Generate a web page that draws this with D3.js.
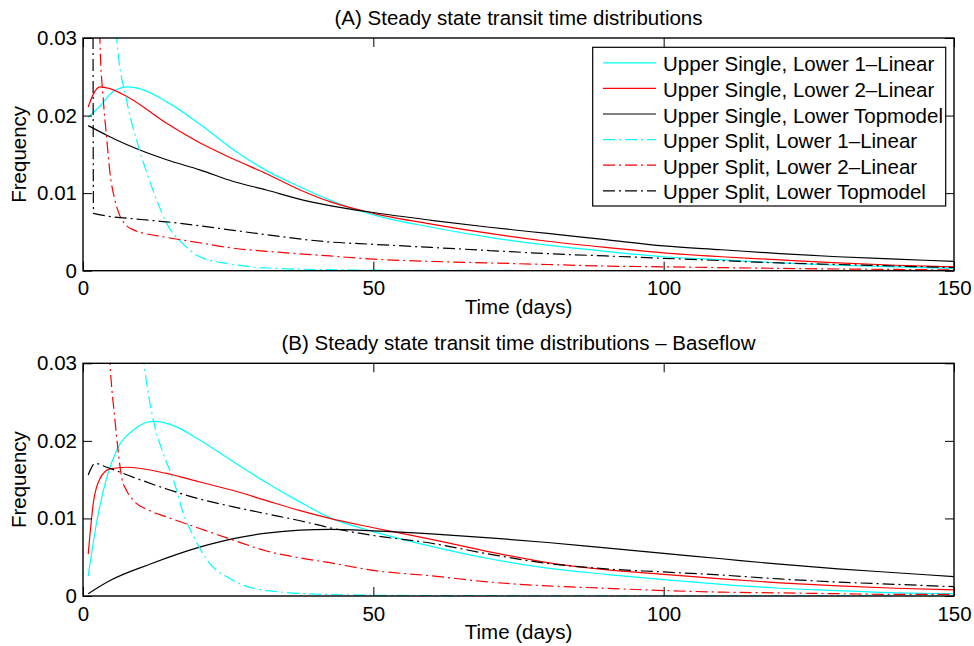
<!DOCTYPE html>
<html>
<head>
<meta charset="utf-8">
<script src="https://cdn.jsdelivr.net/npm/d3@7"></script>
<style>
  body { margin: 0; background: #fff; }
  text { font-family: "Liberation Sans", Arial, Helvetica, sans-serif; fill: #000; }
</style>
</head>
<body>
<div id="chart"></div>
<script>
// ---- data: [days, frequency] ----
const xTicks = [0, 50, 100, 150];
const yTicks = [0, 0.01, 0.02, 0.03];
const yTickLabels = ["0", "0.01", "0.02", "0.03"];

const seriesNames = [
  "Upper Single, Lower 1\u2013Linear",
  "Upper Single, Lower 2\u2013Linear",
  "Upper Single, Lower Topmodel",
  "Upper Split, Lower 1\u2013Linear",
  "Upper Split, Lower 2\u2013Linear",
  "Upper Split, Lower Topmodel"
];
const seriesColors = ["#00ffff", "#ff0000", "#000000", "#00ffff", "#ff0000", "#000000"];
const seriesDashed = [false, false, false, true, true, true];

// panel A - all flow
const aSingle1 = [[0.9,0.0198],[2.9,0.0212],[5.2,0.0231],[7.7,0.0237],[10,0.0234],[14.4,0.0218],[20.1,0.0189],[25.9,0.0156],[31.6,0.0129],[37.4,0.0108],[42.5,0.0091],[50,0.0072],[60,0.0056],[70,0.0043],[80,0.0033],[90,0.0025],[100,0.0018],[110,0.0014],[120,0.0010],[130,0.0007],[140,0.0005],[150,0.0003]];
const aSingle2 = [[0.9,0.0211],[1.8,0.0228],[2.9,0.0237],[4.5,0.0235],[7.7,0.0224],[14.4,0.0190],[20.1,0.0165],[25.9,0.0144],[31.6,0.0125],[37.4,0.0104],[42.5,0.0089],[50,0.0074],[60,0.0060],[70,0.0048],[80,0.0038],[90,0.0030],[100,0.0023],[110,0.0018],[120,0.0014],[130,0.0010],[140,0.0007],[150,0.0005]];
const aSingleTop = [[0.9,0.0187],[4,0.0175],[7.7,0.0162],[14.4,0.0143],[20.1,0.0130],[25.9,0.0115],[31.6,0.0104],[37.4,0.0092],[42.5,0.0084],[50,0.0075],[60,0.0065],[70,0.0056],[80,0.0048],[90,0.0040],[100,0.0032],[110,0.0027],[120,0.0022],[130,0.0018],[140,0.0015],[150,0.0012]];
const aSplit1 = [[4.6,0.045],[5.8,0.030],[7.5,0.0220],[9.2,0.0169],[11,0.0126],[12.7,0.0091],[14.4,0.0061],[17.3,0.0034],[20.1,0.0018],[25.9,0.0008],[31.6,0.00035],[42.5,0.00013],[60,0.00004],[150,0]];
const aSplit2 = [[2.5,0.045],[2.9,0.030],[3.5,0.022],[4.1,0.0169],[4.65,0.0126],[5.5,0.0091],[6.4,0.0070],[7.5,0.0058],[8.6,0.0053],[14.4,0.0043],[20.1,0.0036],[25.9,0.0029],[31.6,0.0025],[42.5,0.0019],[50,0.0015],[60,0.0012],[70,0.0010],[80,0.0008],[90,0.0006],[100,0.0005],[120,0.0003],[150,0.0001]];
const aSplitTop = [[1.7,0.05],[1.8,0.0074],[10,0.0066],[14.4,0.0063],[20,0.0058],[25.9,0.0052],[30,0.0048],[42.5,0.0037],[50,0.0034],[60,0.0030],[70,0.0026],[80,0.0022],[90,0.0019],[100,0.0016],[110,0.0013],[120,0.0010],[130,0.0008],[140,0.0006],[150,0.0004]];

// panel B - baseflow
const bSingle1 = [[0.9,0.0026],[2.4,0.0097],[4.1,0.0153],[5.8,0.0188],[8.7,0.0214],[12.1,0.0225],[16.1,0.0218],[20.1,0.0201],[25.9,0.0173],[31.6,0.0146],[37.4,0.0121],[42.5,0.0101],[50,0.0083],[60,0.0064],[70,0.0048],[80,0.0036],[90,0.0028],[100,0.0021],[110,0.0015],[120,0.0010],[130,0.0007],[140,0.0004],[150,0.0003]];
const bSingle2 = [[0.9,0.0054],[1.8,0.0121],[2.9,0.0151],[4.65,0.0164],[7.5,0.0166],[14.4,0.0158],[20.1,0.0147],[25.9,0.0136],[31.6,0.0123],[37.4,0.0110],[42.5,0.0100],[50,0.0088],[60,0.0073],[70,0.0057],[80,0.0043],[90,0.0034],[100,0.0028],[110,0.0022],[120,0.0017],[130,0.0013],[140,0.0010],[150,0.0008]];
const bSingleTop = [[0.9,0.0003],[4.65,0.0020],[11.5,0.0041],[20.1,0.0063],[25.9,0.0074],[31.6,0.0081],[37.4,0.0085],[42.5,0.0086],[50,0.0084],[60,0.0080],[70,0.0075],[80,0.0069],[90,0.0062],[100,0.0055],[110,0.0048],[120,0.0041],[130,0.0035],[140,0.0030],[150,0.0025]];
const bSplit1 = [[9.5,0.037],[10.5,0.030],[12.1,0.0227],[13.8,0.0184],[15.6,0.0149],[17.3,0.0106],[19.1,0.0076],[21.4,0.0046],[25.9,0.0020],[31.6,0.0007],[42.5,0.0002],[60,0.00005],[150,0]];
const bSplit2 = [[4.2,0.037],[4.65,0.030],[5.5,0.0227],[6.1,0.0184],[6.65,0.0153],[7.5,0.0136],[8.7,0.0123],[11.5,0.0110],[14.4,0.0102],[20.1,0.0087],[25.9,0.0072],[31.6,0.0058],[37.4,0.0049],[42.5,0.0043],[50,0.0033],[60,0.0026],[70,0.0018],[80,0.0013],[90,0.0010],[100,0.0007],[110,0.0005],[120,0.0004],[130,0.0003],[140,0.0002],[150,0.0002]];
const bSplitTop = [[0.9,0.0156],[2.1,0.0171],[4.1,0.0166],[8.7,0.0153],[14.4,0.0138],[20.1,0.0125],[25.9,0.0115],[31.6,0.0106],[37.4,0.0097],[42.5,0.0088],[50,0.0078],[60,0.0068],[70,0.0054],[80,0.0042],[90,0.0035],[100,0.0031],[110,0.0027],[120,0.0022],[130,0.0018],[140,0.0015],[150,0.0012]];

const panels = [
  { title: "(A) Steady state transit time distributions", top: 38, series: [aSingle1, aSingle2, aSingleTop, aSplit1, aSplit2, aSplitTop], legend: true },
  { title: "(B) Steady state transit time distributions \u2013 Baseflow", top: 363.3, series: [bSingle1, bSingle2, bSingleTop, bSplit1, bSplit2, bSplitTop], legend: false }
];

const W = 974, H = 646;
const left = 83, right = 954, plotH = 232.7;
const fontSize = "20.5px";
const dashDot = "12,4,2,4";

const svg = d3.select("#chart").append("svg")
  .attr("width", W).attr("height", H);

const x = d3.scaleLinear().domain([0, 150]).range([0, right - left]);

panels.forEach((p, pi) => {
  const g = svg.append("g").attr("transform", `translate(${left},${p.top})`);
  const y = d3.scaleLinear().domain([0, 0.03]).range([plotH, 0]);

  g.append("clipPath").attr("id", "clip" + pi)
    .append("rect").attr("width", x.range()[1]).attr("height", plotH);

  const line = d3.line()
    .x(d => x(d[0]))
    .y(d => y(d[1]))
    .curve(d3.curveMonotoneX);

  const lines = g.append("g").attr("clip-path", `url(#clip${pi})`);
  p.series.forEach((s, i) => {
    lines.append("path")
      .datum(s)
      .attr("d", line)
      .attr("fill", "none")
      .attr("stroke", seriesColors[i])
      .attr("stroke-width", 1.2)
      .attr("stroke-dasharray", seriesDashed[i] ? dashDot : null);
  });

  // axes with inward ticks on all four sides
  const xb = g.append("g").attr("transform", `translate(0,${plotH})`)
    .call(d3.axisBottom(x).tickValues(xTicks).tickSize(-9).tickPadding(10).tickFormat(d3.format("d")));
  const yl = g.append("g")
    .call(d3.axisLeft(y).tickValues(yTicks).tickSize(-9).tickPadding(6).tickFormat((d, i) => yTickLabels[i]));
  const xt = g.append("g")
    .call(d3.axisTop(x).tickValues(xTicks).tickSize(-9).tickFormat(""));
  const yr = g.append("g").attr("transform", `translate(${x.range()[1]},0)`)
    .call(d3.axisRight(y).tickValues(yTicks).tickSize(-9).tickFormat(""));
  [xb, yl, xt, yr].forEach(a => {
    a.select(".domain").remove();
    a.selectAll("line").attr("stroke", "#000").attr("stroke-width", 1);
    a.selectAll("text").style("font-size", fontSize).attr("fill", "#000");
  });

  g.append("rect")
    .attr("width", x.range()[1]).attr("height", plotH)
    .attr("fill", "none").attr("stroke", "#000").attr("stroke-width", 1.4);

  g.append("text")
    .attr("x", x.range()[1] / 2).attr("y", -13)
    .attr("text-anchor", "middle").style("font-size", fontSize)
    .text(p.title);

  g.append("text")
    .attr("x", x.range()[1] / 2).attr("y", plotH + 43)
    .attr("text-anchor", "middle").style("font-size", fontSize)
    .text("Time (days)");

  g.append("text")
    .attr("transform", `translate(${26 - left},${plotH / 2}) rotate(-90)`)
    .attr("text-anchor", "middle").style("font-size", fontSize)
    .text("Frequency");

  if (p.legend) {
    const lg = svg.append("g").attr("transform", "translate(592.7,47.3)");
    lg.append("rect")
      .attr("width", 353).attr("height", 158.7)
      .attr("fill", "#fff").attr("stroke", "#000").attr("stroke-width", 1.2);
    seriesNames.forEach((name, i) => {
      const cy = 17 + i * 25.6;
      lg.append("line")
        .attr("x1", 10.3).attr("x2", 63.3)
        .attr("y1", cy - 1.5).attr("y2", cy - 1.5)
        .attr("stroke", seriesColors[i]).attr("stroke-width", 1.2)
        .attr("stroke-dasharray", seriesDashed[i] ? dashDot : null);
      lg.append("text")
        .attr("x", 70.3).attr("y", cy).attr("dy", "0.35em")
        .style("font-size", fontSize)
        .text(name);
    });
  }
});
</script>
</body>
</html>
